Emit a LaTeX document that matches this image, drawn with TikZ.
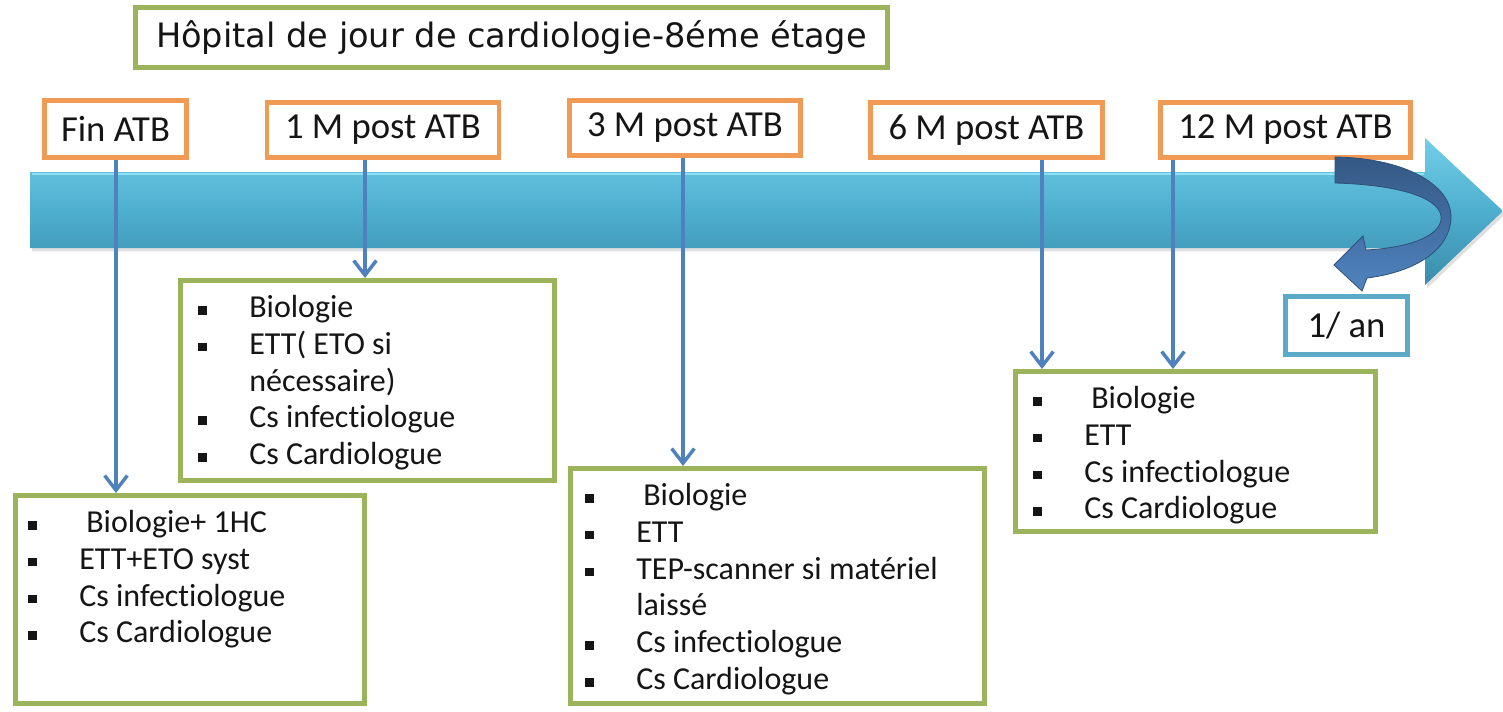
\documentclass[tikz,border=0pt]{standalone}
\usepackage{fontspec}
\setmainfont{Carlito}[Ligatures=NoCommon]
\newfontfamily\titlefont{DejaVu Sans}
\usetikzlibrary{arrows.meta,shadows}
\definecolor{orangeb}{HTML}{F09A55}
\definecolor{greenb}{HTML}{9BB35A}
\definecolor{lblue}{HTML}{5AAAC8}
\definecolor{conn}{HTML}{4F81BD}
\definecolor{txtc}{HTML}{151515}
\definecolor{arrtop}{HTML}{72CFE8}
\definecolor{arrmid}{HTML}{4EAECE}
\definecolor{arrbot}{HTML}{3A8CAB}
\definecolor{arrhl}{HTML}{8EE0F2}
\definecolor{crvtop}{HTML}{345884}
\definecolor{crvbot}{HTML}{5084C0}
\definecolor{crvline}{HTML}{2E5079}
\newcommand{\bul}{\makebox[38.25pt][l]{\rule[2.2pt]{6.5pt}{6.5pt}}}
\newcommand{\cont}{\hspace*{38.25pt}}
\newcommand{\lsp}{\hspace*{5.25pt}}
\begin{document}
\begin{tikzpicture}[x=0.75pt,y=-0.75pt,
  hdr/.style={draw=orangeb,line width=3.7pt,fill=white,text=txtc,font=\fontsize{27.5pt}{32pt}\selectfont,inner sep=0pt},
  gbox/.style={draw=greenb,line width=3.7pt,fill=white,inner sep=0pt},
  lbox/.style={draw=lblue,line width=3.7pt,fill=white,text=txtc,font=\fontsize{27.5pt}{32pt}\selectfont,inner sep=0pt},
  items/.style={anchor=north west,align=left,inner sep=0pt,text=txtc,font=\fontsize{24pt}{27.6pt}\selectfont},
  connector/.style={draw=conn,line width=2.6pt,-{Straight Barb[length=11pt,width=17pt,line width=2.6pt]}}]
\useasboundingbox (0,0) rectangle (1503,711);

% big timeline arrow
\path[drop shadow={opacity=0.25,shadow xshift=1.5pt,shadow yshift=-2.5pt},
      top color=arrtop,bottom color=arrbot,middle color=arrmid]
  (30,172) -- (1425,172) -- (1425,138) -- (1503,211) -- (1425,285) -- (1425,248) -- (30,248) -- cycle;
\draw[arrhl,line width=2pt] (32,174) -- (1424,174);

% title
\node[draw=greenb,line width=3.7pt,fill=white,text=txtc,font=\titlefont\fontsize{25.2pt}{30pt}\selectfont,
      minimum width=752*0.75pt,minimum height=60*0.75pt,inner sep=0pt] (title) at (511.5,37.5)
  {Hôpital de jour de cardiologie-8éme étage};

% headers
\node[hdr,minimum width=142*0.75pt,minimum height=57*0.75pt] (h0) at (115.5,129) {Fin ATB};
\node[hdr,minimum width=232*0.75pt,minimum height=55*0.75pt] (h1) at (383,130) {1 M post ATB};
\node[hdr,minimum width=231*0.75pt,minimum height=55*0.75pt] (h3) at (685,128) {3 M post ATB};
\node[hdr,minimum width=232*0.75pt,minimum height=55*0.75pt] (h6) at (986.5,130) {6 M post ATB};
\node[hdr,minimum width=250*0.75pt,minimum height=55*0.75pt] (h12) at (1285.5,130) {12 M post ATB};

% curved arrow
\path[draw=crvline,line width=0.6pt,top color=crvtop,bottom color=crvbot]
  (1335,157) .. controls (1405,158) and (1452,185) .. (1451,218)
  .. controls (1450,250) and (1415,272) .. (1367,278)
  -- (1362,291) -- (1334,265) -- (1363,236) -- (1366,250)
  .. controls (1405,248) and (1438,238) .. (1441,220)
  .. controls (1444,200) and (1405,185) .. (1335,183) -- cycle;

\node[lbox,minimum width=122*0.75pt,minimum height=58*0.75pt] (an) at (1346.5,325.5) {1/ an};

% content boxes
\node[gbox,minimum width=349*0.75pt,minimum height=208*0.75pt] (bA) at (190,599.5) {};
\node[gbox,minimum width=374*0.75pt,minimum height=200*0.75pt] (bB) at (367.5,380.5) {};
\node[gbox,minimum width=414*0.75pt,minimum height=235*0.75pt] (bC) at (777.5,586) {};
\node[gbox,minimum width=360*0.75pt,minimum height=160*0.75pt] (bD) at (1195.5,451.5) {};

\node[items] (tA) at ([shift={(15,17)}]bA.north west)
  {\bul\lsp Biologie+ 1HC\\ \bul ETT+ETO syst\\ \bul Cs infectiologue\\ \bul Cs Cardiologue};
\node[items] (tB) at ([shift={(20,17)}]bB.north west)
  {\bul Biologie\\ \bul ETT( ETO si\\ \cont nécessaire)\\ \bul Cs infectiologue\\ \bul Cs Cardiologue};
\node[items] (tC) at ([shift={(17,17)}]bC.north west)
  {\bul\lsp Biologie\\ \bul ETT\\ \bul TEP-scanner si matériel\\ \cont laissé\\ \bul Cs infectiologue\\ \bul Cs Cardiologue};
\node[items] (tD) at ([shift={(20,17)}]bD.north west)
  {\bul\lsp Biologie\\ \bul ETT\\ \bul Cs infectiologue\\ \bul Cs Cardiologue};

% connectors
\coordinate (x0) at (116,0);
\coordinate (x1) at (365,0);
\coordinate (x3) at (683,0);
\coordinate (x6) at (1042,0);
\coordinate (x12) at (1173,0);
\draw[connector] (h0.south -| x0) -- (bA.north -| x0);
\draw[connector] (h1.south -| x1) -- (bB.north -| x1);
\draw[connector] (h3.south -| x3) -- (bC.north -| x3);
\draw[connector] (h6.south -| x6) -- (bD.north -| x6);
\draw[connector] (h12.south -| x12) -- (bD.north -| x12);
\end{tikzpicture}
\end{document}
